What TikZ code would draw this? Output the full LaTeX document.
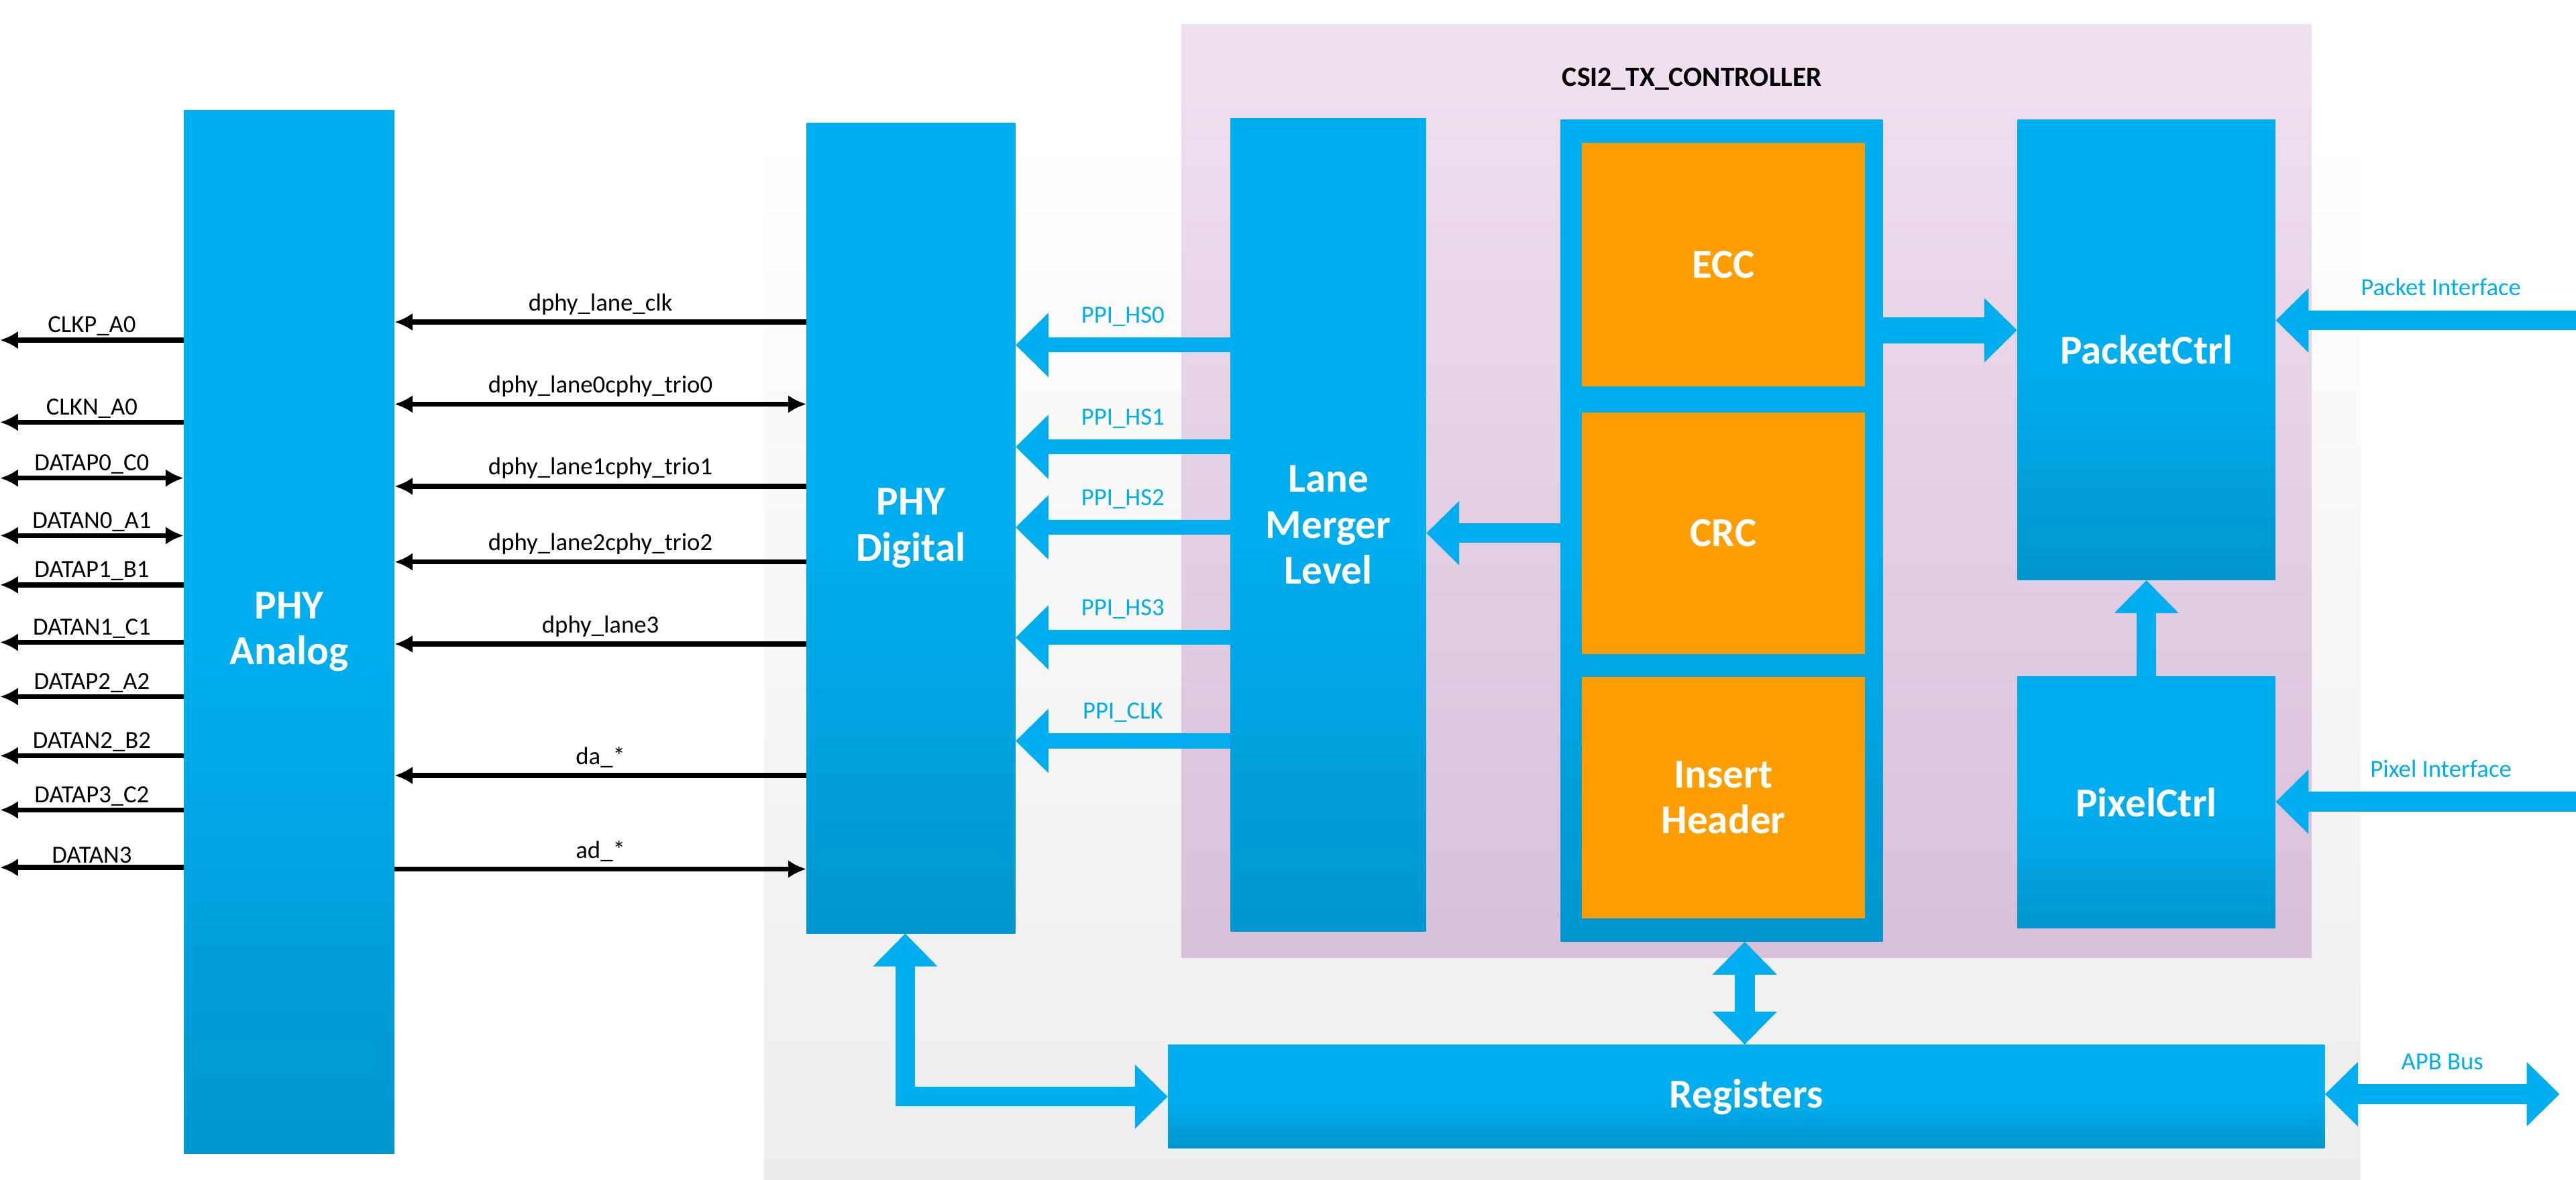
\documentclass[tikz,border=0pt]{standalone}
\usepackage{fontspec}
\setmainfont{Carlito}
\usetikzlibrary{arrows.meta,calc}
\definecolor{bT}{HTML}{00AEEF}
\definecolor{bB}{HTML}{0096CF}
\definecolor{org}{HTML}{FF9E00}
\tikzset{
 blk/.style={draw=none,top color=bT,bottom color=bB,middle color=bT,shading angle=0,text=white,font=\fontsize{25}{28}\selectfont\bfseries,align=center,inner sep=0},
 orb/.style={fill=org,text=white,font=\fontsize{25}{28}\selectfont\bfseries,align=center,inner sep=0},
 lbl/.style={font=\fontsize{15}{17}\selectfont,inner sep=1pt,anchor=south},
 blk arr/.style={-{Latex[length=11pt,width=11pt]},line width=3pt,black},
 blk dbl/.style={{Latex[length=11pt,width=11pt]}-{Latex[length=11pt,width=11pt]},line width=3pt,black},
 ba/.style={-{Triangle[length=20pt,width=38pt]},line width=12pt,bT},
 bd/.style={{Triangle[length=20pt,width=38pt]}-{Triangle[length=20pt,width=38pt]},line width=12pt,bT},
}
\begin{document}
\begin{tikzpicture}[x=1pt,y=-1pt]
\useasboundingbox (0,0) rectangle (1568,718);
% backgrounds
\shade[top color=white,bottom color=black!7] (465,75) rectangle (1437,718);
\shade[top color=violet!12!white,bottom color=violet!22!white!90!gray] (719,15) rectangle (1407,583);
\node[font=\fontsize{17}{20}\selectfont\bfseries] (title) at (1030,48) {CSI2\_TX\_CONTROLLER};
% blocks
\node[blk,minimum width=128,minimum height=635] (ana) at (176,384.5) {PHY\\Analog};
\node[blk,minimum width=127,minimum height=493] (dig) at (554.5,321.5) {PHY\\Digital};
\node[blk,minimum width=119,minimum height=495] (lml) at (808.5,319.5) {Lane\\Merger\\Level};
\node[blk,minimum width=196,minimum height=500] (col) at (1048,323) {};
\node[orb,minimum width=172,minimum height=148] (ecc) at (1049,161) {ECC};
\node[orb,minimum width=172,minimum height=147] (crc) at (1049,324.5) {CRC};
\node[orb,minimum width=172,minimum height=147] (ins) at (1049,485.5) {Insert\\Header};
\node[blk,minimum width=157,minimum height=280] (pkt) at (1306.5,213) {PacketCtrl};
\node[blk,minimum width=157,minimum height=153] (pix) at (1306.5,488.5) {PixelCtrl};
\node[blk,minimum width=704,minimum height=63] (reg) at (1063,667.5) {Registers};
% black arrows between analog and digital
\foreach \y/\t/\s in {196/dphy\_lane\_clk/blk arr,246/dphy\_lane0\/cphy\_trio0/blk dbl,296/dphy\_lane1\/cphy\_trio1/blk arr,342/dphy\_lane2\/cphy\_trio2/blk arr,392/dphy\_lane3/blk arr,472/da\_*/blk arr}{
  \draw[\s] (dig.west |- 0,\y) -- node[lbl,above=2pt]{\t} (ana.east |- 0,\y);
}
\coordinate (adr) at (ana.east |- 0,529);
\draw[blk arr] (adr) -- node[lbl,above=2pt]{ad\_*} (dig.west |- 0,529);
% left pins
\coordinate (L) at (0,0);
\foreach \y/\t/\s in {207/CLKP\_A0/blk arr,257/CLKN\_A0/blk arr,291/DATAP0\_C0/blk dbl,326/DATAN0\_A1/blk dbl,356/DATAP1\_B1/blk arr,391/DATAN1\_C1/blk arr,424/DATAP2\_A2/blk arr,460/DATAN2\_B2/blk arr,493/DATAP3\_C2/blk arr,528/DATAN3/blk arr}{
  \draw[\s] (ana.west |- 0,\y) -- node[lbl,above=0pt]{\t} (L |- 0,\y);
}
% PPI
\foreach \y/\t in {210/PPI\_HS0,272/PPI\_HS1,321/PPI\_HS2,388/PPI\_HS3,451/PPI\_CLK}{
  \draw[ba,line width=9pt] (lml.west |- 0,\y) -- node[lbl,above=6pt]{\t} (dig.east |- 0,\y);
}
% blue arrows
\draw[ba,line width=16pt] (col.east |- 0,201) -- (pkt.west |- 0,201);
\draw[ba] (crc.west -| col.west) -- (lml.east |- crc.west);
\coordinate (pin) at (1568,195);
\draw[ba] (pin) -- node[lbl,above=8pt,pos=0.45]{Packet Interface} (pkt.east |- pin);
\coordinate (xin) at (1568,488);
\draw[ba] (xin) -- node[lbl,above=8pt,pos=0.45]{Pixel Interface} (pix.east |- xin);
\draw[ba] (pix.north) -- (pkt.south);
\draw[bd] (col.south -| 1062,0) -- (reg.north -| 1062,0);
\draw[bd,rounded corners=0] (dig.south -| 551,0) |- (reg.west);
\coordinate (apb) at (1558,666);
\draw[bd] (reg.east |- apb) -- node[lbl,above=8pt]{APB Bus} (apb);
\end{tikzpicture}
\end{document}
